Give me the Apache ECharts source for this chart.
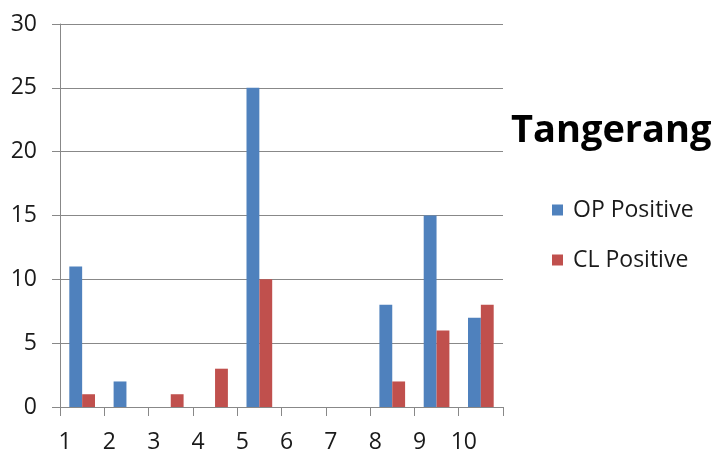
<!DOCTYPE html>
<html>
<head>
<meta charset="utf-8">
<script src="https://cdn.jsdelivr.net/npm/echarts@6/dist/echarts.min.js"></script>
<style>
  html, body { margin: 0; padding: 0; background: #fff; }
  #chart { width: 717px; height: 456px; }
</style>
</head>
<body>
<div id="chart"></div>
<script>
// Weekly positives per site, Tangerang
const categories = ['1', '2', '3', '4', '5', '6', '7', '8', '9', '10'];
const opPositive = [11, 2, 0, 0, 25, 0, 0, 8, 15, 7];
const clPositive = [1, 0, 1, 3, 10, 0, 0, 2, 6, 8];
const seriesNames = ['OP Positive', 'CL Positive'];
const chartTitle = 'Tangerang';

const labelFont = '"Open Sans", "Liberation Sans", sans-serif';
const chart = echarts.init(document.getElementById('chart'));

chart.setOption({
  animation: false,
  backgroundColor: '#ffffff',
  title: {
    text: chartTitle,
    left: 511,
    top: 112,
    padding: 0,
    textStyle: {
      fontFamily: labelFont,
      fontWeight: 'bold',
      fontSize: 38,
      color: '#000'
    }
  },
  legend: {
    orient: 'vertical',
    left: 552,
    top: 198,
    padding: 0,
    itemWidth: 11,
    itemHeight: 11,
    itemGap: 26,
    icon: 'rect',
    textStyle: {
      fontFamily: labelFont,
      fontSize: 23,
      lineHeight: 24,
      color: '#1a1a1a',
      padding: [0, 0, 0, 5]
    },
    data: seriesNames
  },
  grid: {
    left: 60,
    right: 214,
    top: 24,
    bottom: 49
  },
  xAxis: {
    type: 'category',
    data: categories,
    boundaryGap: true,
    axisLine: { lineStyle: { color: '#888', width: 1 } },
    axisTick: { show: true, length: 9, alignWithLabel: false, lineStyle: { color: '#888' } },
    axisLabel: {
      interval: 0,
      margin: 24,
      fontFamily: labelFont,
      fontSize: 23,
      color: '#1a1a1a',
      padding: [0, 34, 0, 0]
    },
    splitLine: { show: false }
  },
  yAxis: {
    type: 'value',
    min: 0,
    max: 30,
    interval: 5,
    axisLine: { show: true, lineStyle: { color: '#888', width: 1 } },
    axisTick: { show: true, length: 8, lineStyle: { color: '#888' } },
    axisLabel: {
      margin: 23,
      fontFamily: labelFont,
      fontSize: 23,
      color: '#1a1a1a'
    },
    splitLine: { show: true, lineStyle: { color: '#888', width: 1 } }
  },
  series: [
    {
      name: seriesNames[0],
      type: 'bar',
      data: opPositive,
      barGap: '0%',
      barCategoryGap: '42%',
      itemStyle: { color: '#4F81BD' }
    },
    {
      name: seriesNames[1],
      type: 'bar',
      data: clPositive,
      barGap: '0%',
      barCategoryGap: '42%',
      itemStyle: { color: '#C0504D' }
    }
  ]
});
</script>
</body>
</html>
